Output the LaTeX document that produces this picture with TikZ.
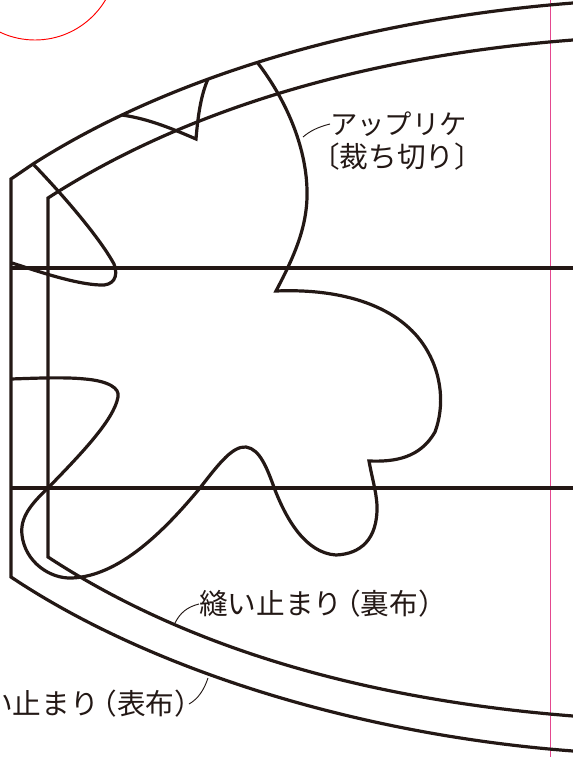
\documentclass[tikz,border=0pt]{standalone}
\usepackage{fontspec}
\setmainfont{Noto Sans CJK JP}
\definecolor{sumi}{HTML}{231815}
\definecolor{pinkline}{HTML}{E4478F}
\newcommand{\parenpull}{\kern-.36em}
\begin{document}
\begin{tikzpicture}[x=0.75pt,y=-0.75pt,
        seam/.style = {draw=sumi, line width=2.4pt, line join=miter},
        leader/.style = {draw=sumi, line width=0.7pt},
        mark label/.style = {text=sumi, inner sep=0pt, font=\fontsize{21.5}{24}\selectfont},
    ]
    \useasboundingbox (0,0) rectangle (573,757);
    \begin{scope}
        \clip (0,0) rectangle (573,757);

        % Red circle and pink guide
        \draw[red, line width=0.7pt] (35,-42) circle(61.5pt);
        \draw[pinkline, line width=0.7pt] (550,0) -- (550,757);

        % Fold lines
        \draw[seam] (11,268) -- (573,268);
        \draw[seam] (11,488) -- (573,488);

        % Outer outline
        \draw[seam] (573,3) .. controls (380,18) and (180,70) .. (33,164)
            -- (11,179) -- (11,577)
            .. controls (150,670) and (360,735) .. (573,751);

        % Inner outline
        \draw[seam] (573,40) .. controls (390,54) and (200,100) .. (48,198)
            -- (48,557)
            .. controls (190,650) and (370,700) .. (573,716);

        % Applique
        \draw[seam] (34,165) .. controls (60,192) and (98,235) .. (114,264)
            .. controls (119,277) and (113,286) .. (100,285)
            .. controls (75,284) and (40,272) .. (12,263);
        \draw[seam] (11,379) .. controls (40,378) and (65,377) .. (85,379)
            .. controls (108,381) and (120,388) .. (118,397)
            .. controls (114,420) and (80,455) .. (48,488)
            .. controls (30,505) and (20,518) .. (22,535)
            .. controls (25,562) and (50,579) .. (72,578)
            .. controls (120,576) and (165,530) .. (200,488)
            .. controls (220,462) and (233,446) .. (246,447)
            .. controls (260,449) and (267,468) .. (275,490)
            .. controls (286,518) and (305,553) .. (336,555)
            .. controls (360,554) and (378,540) .. (377,505)
            .. controls (376,490) and (372,478) .. (369,461)
            .. controls (395,462) and (420,458) .. (435,432)
            .. controls (445,405) and (441,375) .. (428,352)
            .. controls (405,310) and (350,288) .. (276,291)
            .. controls (295,255) and (308,225) .. (307,190)
            .. controls (306,145) and (285,98) .. (257,62);
        \draw[seam] (122,115) .. controls (150,119) and (175,130) .. (196,139)
            .. controls (198,115) and (201,95) .. (208,79);

        % Labels
        \node[mark label, anchor=west, font=\fontsize{20.5}{24}\selectfont] (applique) at (330,124) {アップリケ};
        \node[mark label, anchor=west] (cutedge) at (311,157) {〔裁ち切り〕};
        \node[mark label, anchor=west] (backstop) at (199,604) {縫い止まり\parenpull（裏布）};
        \node[mark label, anchor=east] (frontstop) at (189,704) {縫い止まり\parenpull（表布）\kern-.5em};

        % Leaders
        \coordinate (appliqueend) at (303,137);
        \coordinate (backend) at (175,623);
        \coordinate (frontend) at (208,678);
        \draw[leader] (applique.west) .. controls (318,127) and (310,131) .. (appliqueend);
        \draw[leader] (backstop.west) .. controls (187,607) and (180,613) .. (backend);
        \draw[leader] (frontstop.east) .. controls (198,699) and (204,690) .. (frontend);
    \end{scope}
\end{tikzpicture}
\end{document}
